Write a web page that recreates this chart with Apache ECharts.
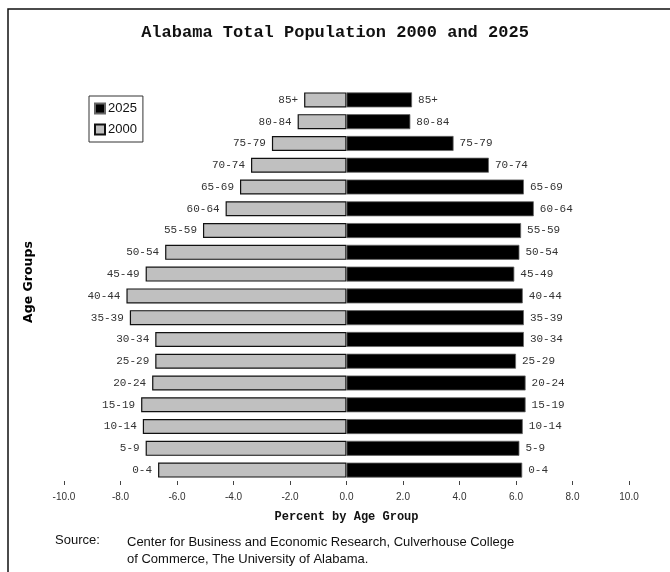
<!DOCTYPE html>
<html>
<head>
<meta charset="utf-8">
<script src="https://cdn.jsdelivr.net/npm/echarts@6/dist/echarts.min.js"></script>
<style>
  html, body { margin: 0; padding: 0; background: #fff; }
  #chart { width: 670px; height: 572px; }
</style>
</head>
<body>
<div id="chart"></div>
<script>
// age groups, bottom to top
const AGE_GROUPS = ['0-4', '5-9', '10-14', '15-19', '20-24', '25-29', '30-34', '35-39', '40-44',
  '45-49', '50-54', '55-59', '60-64', '65-69', '70-74', '75-79', '80-84', '85+']

// percent of total population, 2000 (drawn to the left)
const POP_2000 = [6.67, 7.11, 7.21, 7.27, 6.88, 6.77, 6.77, 7.67, 7.79,
  7.11, 6.42, 5.08, 4.28, 3.77, 3.38, 2.64, 1.73, 1.50]

// percent of total population, 2025 (drawn to the right)
const POP_2025 = [6.22, 6.12, 6.24, 6.34, 6.34, 6.00, 6.28, 6.28, 6.24,
  5.94, 6.12, 6.18, 6.63, 6.28, 5.04, 3.79, 2.26, 2.32]

const X_MIN = -10
const X_MAX = 10
const X_STEP = 2

const MONO = '"Liberation Mono", "DejaVu Sans Mono", monospace'
const SANS = '"Liberation Sans", Arial, sans-serif'

const chart = echarts.init(document.getElementById('chart'))

const ageLabel = (pos) => ({
  show: true,
  position: pos,
  distance: 6,
  formatter: '{b}',
  fontFamily: MONO,
  fontSize: 11,
  color: '#333',
})

const option = {
  animation: false,
  backgroundColor: '#fff',
  title: {
    text: 'Alabama Total Population 2000 and 2025',
    left: 'center',
    top: 19,
    textStyle: { fontFamily: MONO, fontSize: 17, fontWeight: 'bold', color: '#111' },
  },
  legend: {
    orient: 'vertical',
    left: 89,
    top: 96,
    data: ['2025', '2000'],
    borderColor: '#333',
    borderWidth: 1,
    borderRadius: 0,
    padding: [6, 6, 6, 5],
    itemWidth: 10,
    itemHeight: 10,
    itemGap: 8,
    icon: 'rect',
    textStyle: { fontFamily: SANS, fontSize: 13, color: '#111', padding: [0, 0, 0, -2] },
  },
  grid: { left: 64, right: 41, top: 89, bottom: 91 },
  xAxis: {
    type: 'value',
    min: X_MIN,
    max: X_MAX,
    interval: X_STEP,
    name: 'Percent by Age Group',
    nameLocation: 'middle',
    nameGap: 30,
    nameTextStyle: { fontFamily: MONO, fontSize: 12, fontWeight: 'bold', color: '#111' },
    axisLine: { lineStyle: { color: '#666', width: 1 } },
    axisTick: { show: true, length: 4, lineStyle: { color: '#444' } },
    axisLabel: {
      fontFamily: SANS,
      fontSize: 10,
      color: '#333',
      margin: 11,
      formatter: (v) => v.toFixed(1),
    },
    splitLine: { show: false },
  },
  yAxis: {
    type: 'category',
    data: AGE_GROUPS,
    name: 'Age Groups',
    nameLocation: 'middle',
    nameGap: 29,
    nameTextStyle: {
      fontFamily: '"DejaVu Sans", sans-serif',
      fontSize: 12.5,
      fontWeight: 'bold',
      color: '#000',
      padding: [0, 0, 0, 6],
    },
    axisLine: { show: false },
    axisTick: { show: false },
    axisLabel: { show: false },
    splitLine: { show: false },
  },
  series: [
    {
      name: '2000',
      type: 'bar',
      data: POP_2000.map((v) => -v),
      barWidth: 15,
      barGap: '-100%',
      itemStyle: { color: '#c0c0c0', borderColor: '#111', borderWidth: 1.2 },
      label: ageLabel('left'),
    },
    {
      name: '2025',
      type: 'bar',
      data: POP_2025,
      barWidth: 15,
      itemStyle: { color: '#000', borderColor: '#666', borderWidth: 0.8 },
      label: ageLabel('right'),
    },
  ],
  graphic: [
    {
      type: 'rect',
      silent: true,
      shape: { x: 8, y: 9, width: 700, height: 620 },
      style: { fill: 'none', stroke: '#111', lineWidth: 1.5 },
    },
    {
      type: 'text',
      left: 55,
      top: 534,
      style: { text: 'Source:', font: '13px ' + SANS, fill: '#111' },
    },
    {
      type: 'text',
      left: 127,
      top: 534,
      style: {
        text: 'Center for Business and Economic Research, Culverhouse College\nof Commerce, The University of Alabama.',
        font: '13px ' + SANS,
        lineHeight: 17,
        fill: '#111',
      },
    },
  ],
}

chart.setOption(option)
</script>
</body>
</html>
